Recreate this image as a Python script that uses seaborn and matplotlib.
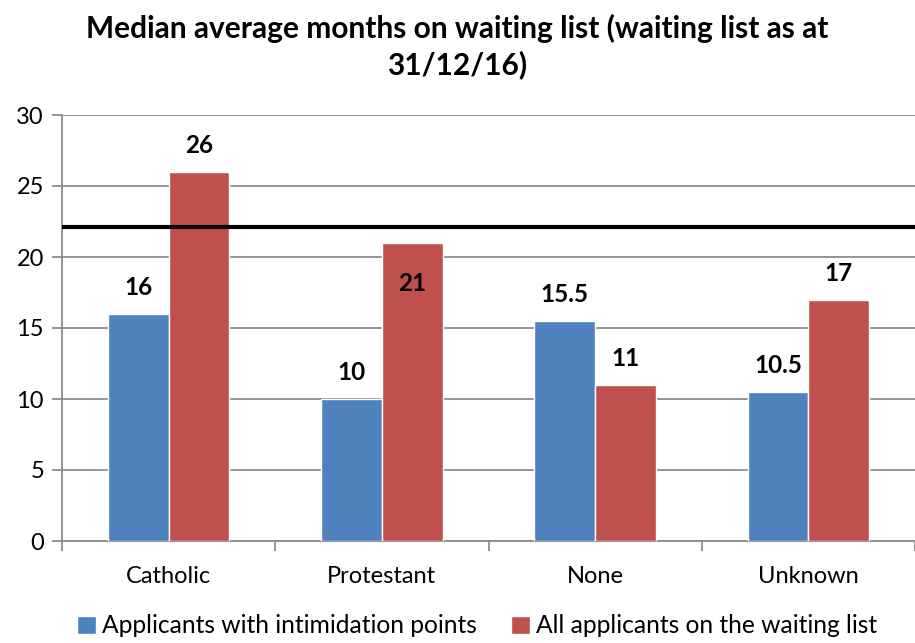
import pandas as pd
import matplotlib
matplotlib.use("Agg")
import matplotlib.pyplot as plt
import seaborn as sns

# Données
categories = ["Catholic", "Protestant", "None", "Unknown"]
intimidation = [16, 10, 15.5, 10.5]
all_applicants = [26, 21, 11, 17]
series_names = ["Applicants with intimidation points", "All applicants on the waiting list"]
overall_median = 22.1

BLUE = "#4F81BD"
RED = "#C0504D"
GRID = "#8C8C8C"

df = pd.DataFrame({
    "Religion": categories * 2,
    "Months": intimidation + all_applicants,
    "Series": [series_names[0]] * 4 + [series_names[1]] * 4,
})

sns.set_theme(style="white")
plt.rcParams["font.family"] = ["Lato", "DejaVu Sans"]
plt.rcParams["text.color"] = "black"
plt.rcParams["xtick.color"] = "black"
plt.rcParams["ytick.color"] = "black"

fig = plt.figure(figsize=(9.15, 6.43), dpi=100)
ax = fig.add_axes([62 / 915, 1 - 541 / 643, 1 - 62 / 915, (541 - 115) / 643])

sns.barplot(data=df, x="Religion", y="Months", hue="Series", order=categories,
            hue_order=series_names, palette=[BLUE, RED], width=0.57,
            saturation=1, ax=ax, zorder=3)

ax.set_ylim(0, 30)
ax.set_xlim(-0.5, 3.5 - 7 / 215)
ax.set_yticks(range(0, 31, 5))
ax.yaxis.grid(True, color=GRID, linewidth=1.3, zorder=0)
ax.set_axisbelow(True)
ax.axhline(overall_median, color="black", linewidth=3, zorder=4)

for s in ["top", "right"]:
    ax.spines[s].set_visible(False)
for s in ["left", "bottom"]:
    ax.spines[s].set_color(GRID)
    ax.spines[s].set_linewidth(1.3)

ax.tick_params(axis="y", length=7, width=1.3, color=GRID, labelcolor="black",
               labelsize=17, pad=6, left=True)
ax.tick_params(axis="x", which="major", length=0, labelcolor="black", labelsize=17, pad=18)
ax.set_xticks([i + 0.5 for i in range(-1, 4)], minor=True)
ax.tick_params(axis="x", which="minor", length=7, width=1.3, color=GRID, bottom=True)
ax.set_xlabel("")
ax.set_ylabel("")

# Étiquettes de valeurs
for container, vals in zip(ax.containers, [intimidation, all_applicants]):
    for bar, v in zip(container, vals):
        dy = 19
        if v == 21:
            dy = -29  # étiquette placée dans la barre
        ax.annotate(f"{v:g}", (bar.get_x() + bar.get_width() / 2, v),
                    xytext=(0, dy), textcoords="offset points",
                    ha="center", va="center", fontsize=17.5, fontweight="bold", zorder=5)

fig.suptitle("Median average months on waiting list (waiting list as at\n31/12/16)",
             x=0.5, y=0.978, fontsize=21.5, fontweight="bold", linespacing=1.3)

leg = ax.legend(loc="upper center", bbox_to_anchor=(0.4865, -0.143), ncol=2,
                frameon=False, fontsize=17.7, handlelength=0.75, handleheight=0.75,
                handletextpad=0.25, columnspacing=1.4, borderpad=0)

plt.savefig("out.png", dpi=100)
